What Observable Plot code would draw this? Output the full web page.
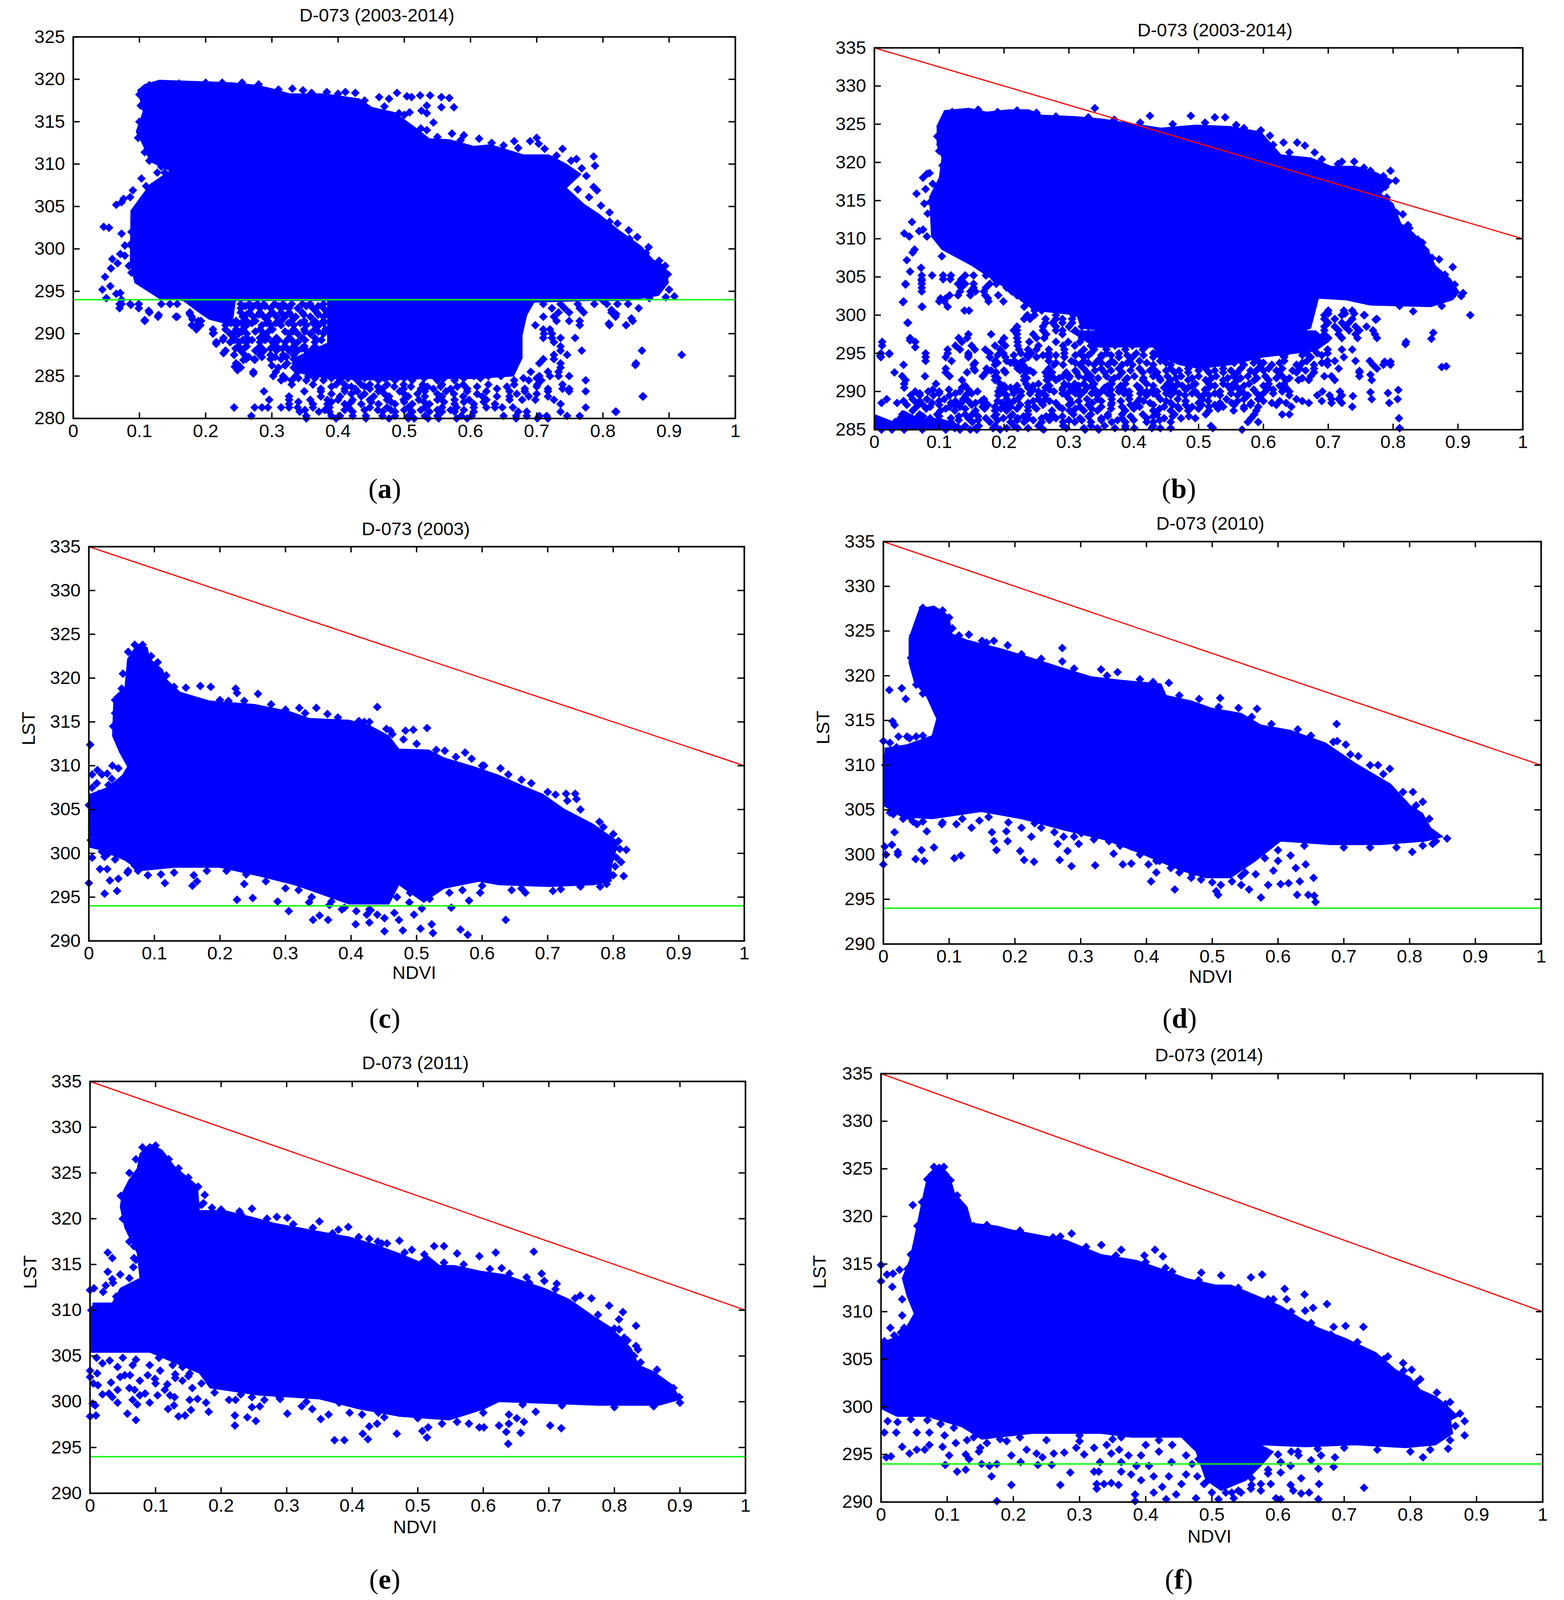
<!DOCTYPE html>
<html><head><meta charset="utf-8">
<script src="https://cdn.jsdelivr.net/npm/d3@7"></script>
<script src="https://cdn.jsdelivr.net/npm/@observablehq/plot@0.6"></script>
<style>
html,body{margin:0;padding:0;background:#fff}
#page{position:relative;width:4004px;overflow:hidden;background:#fff}
#page svg{position:absolute;display:block;background:transparent}
.cap{position:absolute;font-family:"Liberation Serif",serif;font-size:72px;line-height:84px;transform:translate(-50%,-50%);color:#000}
.cap b{font-weight:700}
</style></head><body><div id="page"></div>
<script>
const xTicks=[0,0.1,0.2,0.3,0.4,0.5,0.6,0.7,0.8,0.9,1];
const ticksA=[280,285,290,295,300,305,310,315,320,325];
const ticksB=[285,290,295,300,305,310,315,320,325,330,335];
const ticksC=[290,295,300,305,310,315,320,325,330,335];
const redLine=[[0,335],[1,310]];
const greenLst=294;

const aOutline=[[.097,318.7],[.108,319.4],[.13,319.9],[.206,319.7],[.24,319.6],[.278,319.3],[.30,318.9],[.327,318.3],[.38,318.3],[.432,317.7],[.451,316.7],[.485,316.1],[.515,314.4],[.538,313],[.568,312.9],[.605,312.1],[.63,312.3],[.68,311.1],[.718,311.1],[.745,310],[.767,308.8],[.745,307.2],[.771,305.3],[.794,304.1],[.824,302.2],[.858,300.3],[.876,298.7],[.895,298],[.899,296],[.884,294.5],[.839,293.9],[.779,293.9],[.696,293.7],[.685,292.2],[.678,289.8],[.678,287.1],[.665,285],[.608,284.7],[.537,284.7],[.467,284.5],[.384,284.7],[.339,285.4],[.333,287.1],[.384,288.9],[.384,293.9],[.245,293.9],[.24,291],[.205,291.7],[.192,292.4],[.166,293.9],[.131,294.1],[.093,296],[.086,298.3],[.087,304.5],[.116,307.6],[.146,309.2],[.116,310.3],[.105,312.3],[.095,313.8],[.105,316.1]];
const aRows=[
[293.5,[.070,.086,.099,.133,.146,.157,.253,.266,.278,.288,.304,.317,.33,.346,.358,.378,.71,.736,.762,.787,.806,.822,.838]],
[293.25,[.26,.272,.29,.31,.32,.352,.37]],
[293,[.070,.099,.253,.269,.282,.298,.314,.326,.339,.362,.378,.723,.742,.765,.854]],
[292.5,[.115,.176,.253,.266,.282,.301,.314,.326,.346,.368,.384,.733,.749,.771,.813]],
[292.25,[.262,.28,.297,.328,.348,.37]],
[292,[.128,.157,.179,.256,.272,.288,.307,.32,.336,.358,.378,.71,.726,.819]],
[291.5,[.108,.189,.246,.262,.275,.294,.314,.33,.349,.365,.378,.73,.749,.765,.845]],
[291.25,[.238,.254,.27,.292,.306,.325,.343,.362,.378]],
[291,[.179,.192,.23,.246,.262,.285,.298,.314,.333,.352,.371,.698,.765,.81,.835]],
[290.5,[.186,.211,.23,.246,.256,.282,.301,.333,.349,.365,.381,.71,.72]],
[290.25,[.245,.255,.275,.295,.32,.332,.35,.37]],
[290,[.211,.237,.25,.262,.288,.326,.339,.358,.378,.711,.723]],
[289.5,[.227,.243,.262,.282,.294,.307,.326,.346,.365,.71,.723,.736,.758]],
[289.25,[.226,.243,.256,.27,.29,.31,.33,.35,.375]],
[289,[.216,.237,.25,.262,.282,.301,.32,.339,.365,.726]],
[288.5,[.25,.262,.282,.307,.32,.333,.349,.365,.736]],
[288.25,[.245,.258,.28,.298,.316,.332,.345,.362]],
[288,[.23,.253,.275,.288,.307,.326,.339,.352,.371,.736,.768,.859]],
[287.5,[.243,.259,.282,.298,.317,.333,.352,.726,.746,.919]],
[287.25,[.265,.285,.305,.322]],
[287,[.261,.274,.298,.314,.333,.71,.726]],
[286.5,[.246,.323,.336,.352,.371,.704,.736,.85]],
[286.25,[.25,.3,.32,.34,.355]],
[286,[.246,.253,.31,.333,.346,.365,.39,.416,.442,.461,.736]],
[285.5,[.272,.306,.339,.358,.378,.403,.422,.448,.467,.506,.691,.717,.733]],
[285,[.302,.317,.336,.355,.378,.4,.422,.448,.474,.512,.544,.605,.627,.646,.704,.72,.733,.749]],
[284.75,[.32,.34,.365,.39,.415,.44,.47,.5,.53,.56,.59,.615,.68,.7]],
[284.5,[.314,.33,.352,.378,.403,.429,.461,.486,.512,.55,.576,.666,.688,.707,.774]],
[284,[.33,.362,.397,.41,.435,.448,.474,.499,.528,.557,.589,.627,.666,.701,.739]],
[283.75,[.39,.42,.44,.46,.485,.51,.535,.555,.58,.61,.655,.7]],
[283.5,[.374,.41,.426,.448,.467,.499,.525,.544,.57,.595,.64,.682,.717,.739,.749]],
[283.2,[.288,.349,.374,.41,.429,.461,.493,.531,.563,.595,.624,.659,.682,.717,.749,.774]],
[282.9,[.39,.42,.44,.47,.5,.52,.55,.575,.61,.67,.7]],
[282.6,[.326,.374,.403,.435,.454,.477,.506,.531,.557,.589,.618,.64,.659,.688,.717,.861]],
[282.2,[.296,.326,.358,.384,.4,.422,.448,.474,.499,.522,.55,.576,.598,.624,.659,.678,.698,.726]],
[281.95,[.34,.39,.42,.45,.48,.5,.53,.56,.59,.62]],
[281.7,[.326,.362,.384,.41,.435,.461,.486,.512,.538,.576,.605,.637,.736]],
[281.3,[.243,.274,.285,.294,.314,.326,.339,.362,.387,.416,.448,.474,.506,.531,.557,.579,.605,.624,.637,.648,.664,.774]],
[281,[.35,.38,.41,.44,.46,.48,.5,.525,.55,.57,.59]],
[280.8,[.342,.371,.387,.422,.467,.486,.512,.538,.557,.576,.605,.672,.685,.736,.819]],
[280.3,[.269,.352,.39,.403,.422,.442,.467,.486,.506,.531,.55,.586,.602,.65,.669,.685,.704,.715,.746,.765]],
[280,[.352,.397,.442,.477,.506,.515,.536,.552,.579,.595,.669,.701,.717]]];
const aScatter=[[.046,302.6],[.054,302.5],[.073,301.8],[.078,300.4],[.059,298.8],[.071,299.4],[.078,299.2],[.057,297.7],[.067,298.3],[.048,296.7],[.084,298],[.044,295.2],[.056,295.6],[.065,294.7],[.071,294.8],[.05,294.2],[.073,294],[.073,293.5],[.087,293.4],[.108,291.6],[.114,292.7],[.129,292.2],[.155,292],[.176,292.3],[.186,291],[.18,291.7],[.193,291.5],[.212,290.1],[.216,288.8],[.227,287.7],[.244,286.1],[.248,285.7],[.257,286.9],[.274,286.9],[.272,285.3],[.065,305.2],[.076,305.9],[.086,306.1],[.073,305.5],[.103,308.3],[.09,306.9],[.11,307.4],[.127,309],[.138,309],[.331,318.9],[.347,318.7],[.383,318.5],[.411,318.5],[.426,318.4],[.489,318.4],[.462,317.9],[.477,317.7],[.504,318],[.511,317.9],[.524,318.1],[.539,318.1],[.556,317.9],[.568,317.8],[.575,316.7],[.556,316.7],[.534,316.9],[.534,316],[.526,316.3],[.508,316.1],[.492,316],[.544,314.9],[.534,314],[.572,313.6],[.59,313.4],[.613,313],[.632,312.5],[.666,312.7],[.69,312.7],[.7,313.1],[.703,312.4],[.739,311.8],[.76,310.6],[.786,310.9],[.788,309.8],[.775,308.6],[.786,307.3],[.791,306.9],[.779,306.1],[.797,305.1],[.81,304.3],[.822,303],[.839,302.2],[.852,301.4],[.869,300.2],[.865,299.5],[.894,298],[.908,294.4],[.895,294.3],[.849,286.3],[.86,282.6],[.82,280.8],[.843,291.8],[.835,291],[.809,291.2],[.82,292.3],[.813,292.8],[.1,318.2],[.102,316.9],[.1,315],[.098,313.1],[.108,311.4],[.115,310.4],[.122,310.6],[.133,309.7],[.115,319.3],[.16,319.5],[.2,319.6],[.225,319.6],[.255,319.6],[.28,319.4],[.31,318.8],[.36,318.4],[.4,318.3],[.44,317.5],[.47,316.8],[.5,315.8],[.525,314.2],[.55,313.2],[.585,312.8],[.65,312.2],[.672,311.9],[.712,311.8],[.73,311],[.752,310.4],[.768,309.5],[.762,307],[.81,303.2],[.84,301.2],[.885,298.6],[.898,297],[.9,295.2],[.87,294.2],[.8,293.9],[.088,302],[.086,300.5],[.088,297.2]];

const bOutline=[[.096,324.7],[.108,326.8],[.146,327.1],[.173,326.6],[.208,326.9],[.238,326.9],[.258,326.2],[.312,326],[.35,325.7],[.396,325.1],[.442,324.5],[.496,324.9],[.55,324.7],[.596,324],[.627,321],[.673,320.6],[.704,319.5],[.742,319.5],[.773,318.7],[.8,317.6],[.781,315.9],[.8,314.6],[.812,312],[.831,310.8],[.854,308.6],[.865,306.5],[.888,304.8],[.902,303],[.892,302],[.858,301.1],[.765,301.3],[.727,302],[.685,302.2],[.673,298.3],[.65,297.5],[.565,296.4],[.512,294.8],[.473,296.2],[.396,297.5],[.319,298.3],[.312,300],[.258,300.5],[.235,301.3],[.196,303.9],[.15,306.5],[.104,308.6],[.088,310.3],[.085,315.5],[.1,318],[.104,320.6],[.096,322.4]];
const bCorner=[[0,285],[0,287],[.03,286],[.045,287.5],[.07,286.4],[.1,286.5],[.13,285.7],[.14,285]];
const bDense=[[.3,298],[.34,295.8],[.43,295.8],[.44,294.6],[.47,293.5],[.5,293],[.55,293.5],[.6,294.5],[.68,295.3],[.7,296.5],[.68,298]];
const bRows=[
[305.2,[.073,.089,.106,.118,.14,.153,.172]],
[304.7,[.073,.106,.117,.134,.186]],
[304.1,[.048,.073,.129,.14,.153,.178,.188,.202]],
[303.6,[.073,.134,.153,.172,.204]],
[303.1,[.073,.132,.148,.156,.169,.212]],
[302.6,[.129,.116,.148,.171,.191,.22]],
[302.2,[.11,.102,.175,.231]],
[301.8,[.045,.1,.108,.176,.199,.237]],
[301.1,[.074,.113,.231,.245]],
[300.6,[.139,.146,.247,.258,.70,.724,.737]],
[300.2,[.70,.726,.74]],
[300,[.236,.247,.28,.307,.694,.721,.756]],
[299.5,[.231,.24,.264,.28,.29,.305,.32,.335,.35,.694,.71,.737,.775]],
[299,[.051,.264,.275,.29,.305,.325,.34,.70,.721,.732]],
[298.5,[.22,.26,.28,.3,.32,.33,.694,.71,.726,.742,.759]],
[298,[.215,.22,.26,.28,.29,.31,.694,.716,.732,.748,.769]],
[297.5,[.145,.18,.22,.245,.265,.29,.694,.716,.742,.772]],
[297,[.055,.13,.143,.2,.22,.25,.262,.32,.345,.365,.7,.721,.745,.775]],
[296.5,[.012,.063,.135,.196,.221,.239,.28,.299,.317,.344,.377,.42,.452,.549,.565,.597,.82]],
[296,[.125,.15,.186,.202,.221,.253,.291,.309,.334,.355,.371,.398,.42,.538,.56,.581,.608,.63,.662]],
[295.5,[.113,.132,.155,.171,.194,.223,.237,.25,.269,.293,.323,.339,.358,.387,.414,.441,.525,.549,.57,.592,.619,.651,.678,.699,.721,.737]],
[295,[.01,.023,.079,.113,.145,.178,.199,.226,.242,.269,.293,.317,.334,.358,.377,.404,.43,.457,.484,.516,.543,.57,.597,.635,.667,.683,.699]],
[294.75,[.145,.19,.215,.235,.26,.28,.31,.33,.35,.365,.39,.415,.44,.63,.66,.69]],
[294.5,[.01,.079,.11,.145,.178,.202,.237,.25,.269,.293,.323,.35,.377,.398,.43,.447,.473,.511,.538,.56,.586,.632,.673,.724]],
[294,[.079,.119,.186,.204,.216,.229,.269,.304,.323,.344,.366,.393,.409,.441,.473,.516,.538,.565,.592,.632,.667,.699,.71,.742,.764]],
[293.75,[.155,.19,.21,.225,.28,.31,.33,.35,.37,.39,.42,.45,.48,.5,.53,.555,.585,.6,.625,.66,.69]],
[293.5,[.045,.153,.186,.218,.229,.277,.291,.317,.339,.36,.382,.398,.43,.457,.484,.511,.538,.57,.597,.613,.651,.678,.699,.769,.785,.796]],
[293,[.11,.153,.173,.221,.234,.269,.323,.35,.377,.409,.43,.457,.484,.511,.538,.565,.592,.608,.629,.656,.678,.716,.775]],
[292.75,[.155,.18,.2,.225,.24,.27,.31,.34,.365,.395,.425,.45,.47,.5,.525,.55,.58,.6,.62,.645,.665]],
[292.5,[.031,.11,.143,.172,.188,.202,.234,.245,.264,.274,.296,.312,.328,.355,.382,.414,.436,.463,.484,.516,.538,.56,.586,.624,.651,.678,.748]],
[292,[.043,.078,.116,.167,.186,.231,.266,.274,.291,.301,.315,.334,.358,.377,.401,.43,.452,.473,.5,.527,.554,.576,.603,.629,.673,.694,.705,.748]],
[291.75,[.19,.235,.27,.285,.3,.325,.345,.37,.39,.415,.44,.465,.49,.52,.545,.565,.59,.62,.64,.66]],
[291.5,[.048,.135,.186,.231,.266,.28,.334,.366,.387,.414,.441,.457,.484,.511,.538,.56,.586,.608,.635,.654,.67,.71,.767]],
[291,[.046,.095,.194,.234,.253,.293,.309,.323,.339,.366,.387,.42,.452,.468,.495,.516,.538,.554,.578,.608,.632]],
[290.75,[.14,.2,.22,.245,.27,.3,.315,.335,.36,.38,.405,.43,.46,.475,.49,.525,.545,.57,.6,.625]],
[290.5,[.046,.135,.194,.21,.237,.264,.291,.307,.328,.355,.377,.409,.447,.463,.484,.516,.56,.608,.635]],
[290.25,[.09,.115,.145,.2,.22,.245,.27,.29,.315,.34,.365,.385,.41,.43,.455,.48,.51,.55,.585,.615]],
[290,[.063,.083,.1,.132,.159,.191,.215,.226,.253,.277,.301,.323,.35,.377,.393,.42,.436,.463,.495,.533,.565,.603,.629,.64,.691,.718]],
[289.75,[.07,.1,.125,.15,.2,.215,.24,.26,.29,.31,.335,.36,.385,.41,.43,.45,.47,.49,.51,.525,.55,.57,.59,.615]],
[289.5,[.056,.07,.091,.116,.141,.191,.204,.226,.253,.264,.296,.317,.344,.366,.393,.42,.436,.457,.479,.5,.516,.533,.56,.576,.597,.64,.683,.702,.721]],
[289,[.019,.059,.081,.108,.137,.169,.204,.221,.253,.264,.301,.328,.344,.366,.393,.409,.441,.468,.506,.543,.57,.592,.651,.705,.716,.767,.807]],
[288.75,[.045,.07,.1,.125,.145,.165,.19,.215,.245,.27,.315,.35,.38,.415,.45,.48,.515,.56,.6,.625,.66,.69]],
[288.5,[.011,.035,.065,.089,.118,.134,.156,.172,.196,.207,.237,.258,.28,.304,.336,.366,.404,.425,.457,.5,.533,.551,.581,.613,.635,.67,.705,.721,.794]],
[288.25,[.05,.075,.1,.125,.15,.175,.2,.225,.26,.3,.33,.365,.395,.43,.46,.48,.505,.525,.555,.58,.62]],
[288,[.065,.086,.116,.132,.167,.186,.21,.237,.247,.285,.317,.35,.382,.409,.447,.468,.49,.516,.538,.57,.592,.643,.737]],
[287.75,[.08,.11,.14,.17,.195,.22,.25,.29,.31,.335,.365,.4,.44,.47,.5,.53,.57]],
[287.5,[.059,.102,.124,.156,.186,.204,.237,.274,.301,.323,.344,.387,.43,.457,.484,.516,.554,.589]],
[287,[.043,.07,.097,.14,.151,.188,.213,.237,.274,.307,.334,.36,.382,.414,.436,.463,.511,.586,.64,.629]],
[286.75,[.05,.075,.1,.13,.16,.185,.21,.23,.265,.29,.33,.36,.395,.43,.46,.485]],
[286.5,[.04,.065,.086,.118,.145,.172,.199,.221,.237,.258,.28,.317,.35,.382,.42,.447,.473,.495,.581]],
[286.25,[.13,.16,.19,.22,.245,.27,.3,.32,.35,.375,.4,.44]],
[286,[.008,.032,.048,.07,.091,.118,.151,.178,.21,.231,.258,.291,.309,.334,.366,.387,.42,.43,.457,.576,.592]],
[285.5,[.019,.043,.07,.102,.14,.161,.186,.215,.253,.291,.334,.355,.387,.43,.519]],
[285.2,[.124,.156,.183,.204,.221,.237,.258,.296,.323,.344,.371,.387,.401,.428,.441,.457,.522,.81]],
[285,[.011,.027,.046,.074,.11,.132,.148,.158,.194,.261,.325,.346,.567]]];
const bScatter=[[.046,310.7],[.054,310.3],[.058,312.2],[.062,308.6],[.059,308.2],[.05,307.2],[.055,305.7],[.048,304],[.072,306.2],[.073,304.5],[.065,315.9],[.075,318],[.081,318.5],[.085,318.6],[.079,316.5],[.077,314.6],[.082,313.3],[.069,311],[.075,311.2],[.081,310.3],[.104,307.7],[.044,301.7],[.073,301.1],[.052,299],[.055,296.7],[.063,295.8],[.012,296],[.009,294.7],[.023,294.9],[.34,327.1],[.425,326.1],[.488,326.1],[.525,325.9],[.541,325.9],[.558,324.9],[.596,324.2],[.573,323.6],[.581,321.9],[.615,322.3],[.631,322.6],[.652,322.6],[.664,322.2],[.679,321.3],[.721,320.1],[.74,320.1],[.765,318.9],[.796,318.9],[.804,317.6],[.788,316.8],[.815,313.2],[.823,311.8],[.838,309.9],[.85,308.5],[.871,307.3],[.892,306.3],[.865,305.8],[.908,302.9],[.919,300],[.831,300.5],[.809,286.5],[.808,290.2],[.792,289.8],[.765,289.9],[.738,289.4],[.875,293.2],[.882,293.3],[.862,297.7],[.859,296.9],[.819,296.2],[.773,299.4],[.755,300],[.796,293.9],[.787,293.9],[.765,292.2],[.748,292.7],[.12,326.6],[.16,326.9],[.19,326.6],[.22,326.8],[.25,326.5],[.28,326],[.33,325.9],[.37,325.6],[.41,325.2],[.46,325],[.51,325.2],[.57,324.5],[.61,323.5],[.59,323],[.6,322],[.64,321.3],[.69,320.4],[.715,319.8],[.755,319.3],[.785,318.2],[.79,317.3],[.777,316.5],[.79,315.4],[.805,313.4],[.825,311.4],[.845,309.5],[.86,307.5],[.88,305.3],[.895,304],[.905,302.5],[.875,301.2],[.81,301.2],[.097,323.4],[.1,321.5],[.105,319.6],[.09,317.2],[.086,314.8]];

const cOutline=[[0,306.7],[.028,307.5],[.051,308.9],[.059,309.9],[.047,311.5],[.036,313.4],[.038,317.8],[.055,319],[.059,322.2],[.074,323.9],[.089,323.5],[.093,322.2],[.112,321],[.119,319.8],[.139,318.4],[.184,317.4],[.253,317],[.306,316.2],[.336,315.4],[.397,315.2],[.428,314.6],[.458,313.4],[.473,311.9],[.519,311.8],[.542,310.9],[.587,309.9],[.626,308.9],[.656,307.9],[.694,306.7],[.724,305.1],[.77,303.3],[.808,301.3],[.797,298.4],[.797,296.8],[.77,296.4],[.702,296.2],[.626,296.4],[.595,296.8],[.542,296],[.511,294.4],[.473,296.4],[.458,294.2],[.397,294.2],[.352,295.4],[.314,296.4],[.26,297.4],[.199,298.4],[.131,298.4],[.078,298],[.055,299.2],[.017,300.4],[0,300.7]];
const cScatter=[[.44,316.7],[.516,314.3],[.483,314],[.495,314.1],[.543,311.7],[.574,311.5],[.584,310.8],[.603,310],[.628,309.7],[.66,308.4],[.712,306.7],[.728,306.8],[.742,306.8],[.744,306.2],[.779,303.6],[.808,301.4],[.82,300.4],[.812,299],[.816,297.4],[.636,292.4],[.567,291.3],[.578,290.7],[.525,290.9],[.523,291.9],[.506,291.4],[.479,291.2],[.451,291.1],[.407,291.9],[.428,292.1],[.365,292.4],[.342,292.4],[.352,292.9],[.305,293.4],[.226,294.7],[.25,294.9],[.288,294.5],[.024,295.4],[.043,295.7],[0,296.6],[.032,296.9],[.045,297.1],[.017,298.2],[.028,298.2],[.024,299.6],[.005,299.5],[.059,297.8],[.116,296.6],[.158,296.3],[.165,296.8],[.237,296.5],[.58,294.6],[.553,293.8],[.597,295.5],[.645,295.8],[.666,295.5],[.708,295.7],[.489,294.4],[.466,293.2],[.451,292.6],[.473,292.4],[.496,293],[.508,293.7],[.424,293],[.408,293.4],[.386,293.6],[.336,294.4],[.367,294.1],[.428,293.6],[.148,318.9],[.17,319.1],[.186,319],[.224,318.8],[.226,318.3],[.258,318.2],[.278,317],[.213,317.4],[.237,317.4],[.321,316.6],[.347,316.6],[.364,315.9],[.412,315.1],[.428,315],[.454,314.2],[.463,313.6],[0,305.5],[.013,309.5],[.028,309.1],[.045,309.7],[.036,310],[.002,312.4],[.06,298],[.09,297.5],[.11,297.6],[.13,297.8],[.16,297.5],[.18,298],[.21,298],[.24,297.6],[.27,296.8],[.3,296],[.32,295.8],[.34,295],[.37,294.5],[.39,293.8],[.43,293.5],[.44,293],[.47,295],[.49,295.5],[.52,294.8],[.55,295.5],[.57,295.8],[.6,296.3],[.66,296],[.72,295.9],[.75,296.2],[.78,296.2],[.79,296.5],[.8,297.5],[.803,298.5],[.805,299.5],[.81,300.5],[.2,317.5],[.3,316.4],[.33,316],[.38,315.5],[.42,315],[.46,314],[.48,313],[.5,312.5],[.53,311.8],[.56,311],[.6,310],[.64,309],[.675,308],[.7,307],[.73,306],[.75,305],[.785,303],[.8,302.2],[.04,316],[.037,314.5],[.04,317.5],[.05,318.8],[.052,320.5],[.06,323],[.07,323.8],[.082,323.8],[.095,322.5],[.105,321.8],[.118,320.3],[.13,319],[.005,309],[.012,308],[.02,309],[.035,308.5],[.005,307.5],[.015,306.8],[.03,307.8],[.005,303],[.003,301.5],[.01,301],[.03,300],[.04,299.3],[.02,300.2],[.07,298.6],[.075,298]];

const dOutline=[[0,309.4],[0,305.5],[.028,304.2],[.074,304],[.149,304.8],[.21,304],[.271,302.8],[.339,301.6],[.392,300.1],[.453,298.2],[.49,297.4],[.528,297.4],[.566,299.3],[.604,301.5],[.68,301.1],[.756,301.1],[.824,301.5],[.851,302],[.832,303],[.82,304.6],[.801,305.5],[.771,307.9],[.718,310.2],[.672,312.5],[.619,313.9],[.574,314.5],[.544,315.8],[.498,316.4],[.468,317.2],[.43,317.8],[.422,319.1],[.362,319.5],[.316,319.9],[.271,320.9],[.225,322],[.18,323],[.127,324],[.104,324.7],[.1,326.7],[.077,327.8],[.055,327.5],[.049,326.3],[.039,324.2],[.039,321.4],[.047,319.3],[.066,317.6],[.081,315.2],[.074,313.3],[.036,312.3],[.002,311.9]];
const dScatter=[[.272,323.1],[.272,321.6],[.689,314.6],[.512,317.5],[.568,316.3],[.434,319.2],[.331,320.7],[.356,320.4],[.189,323.4],[.168,323.9],[.157,323.7],[.009,318.4],[.028,318.6],[.034,317.4],[.014,314.9],[.017,314.5],[.023,313.2],[.036,313.2],[0,312.7],[.77,309.6],[.752,310],[.722,311],[.703,312.3],[.684,312.6],[.805,307],[.82,305.9],[.857,301.8],[.804,300.3],[.835,301.2],[.657,294.7],[.655,295.4],[.646,295.5],[.629,295.5],[.633,297],[.654,297.4],[.642,298.9],[.619,299.9],[.627,298.5],[.6,299.3],[.593,298.2],[.616,296.8],[.604,296.7],[.585,296.6],[.574,295.2],[.556,296.1],[.544,296.6],[.509,295.5],[.506,295.9],[.443,296.1],[.407,297],[.544,297.6],[.566,297.8],[.528,298.2],[.513,296.6],[.483,297.2],[.468,297.4],[.415,298],[.403,298.9],[.377,299],[.364,298.9],[.35,300.1],[.322,298.8],[.286,298.7],[.268,299.4],[.28,300.4],[.297,301.2],[.265,301.2],[.229,299.2],[.214,299.4],[.208,300.4],[.172,300.5],[.189,301.5],[.168,301.5],[.118,299.9],[.108,299.6],[.077,300.8],[.062,299.3],[.049,299.5],[.058,300.5],[.022,300.3],[.022,300],[.013,301.1],[.004,300],[.002,300.9],[0,298.9],[.017,302.5],[.051,303.4],[.066,302.6],[.089,303.4],[.111,303.4],[.134,303],[.146,303.8],[.165,302.5],[.187,302.6],[.225,302],[.21,303],[.24,303],[.274,302],[.301,302.4],[.343,301.5],[.377,300.9],[.415,299.3],[.437,298.5],[.015,304.5],[.04,304.2],[.06,303.7],[.09,303.6],[.12,304],[.16,304.2],[.19,303.6],[.23,303.5],[.26,302.5],[.29,302],[.32,301.7],[.36,301],[.39,300],[.42,299.3],[.45,298],[.47,297.8],[.5,296.9],[.53,297],[.55,298],[.58,299.6],[.6,300.5],[.64,301],[.7,300.8],[.74,300.8],[.78,300.8],[.82,301],[.84,301.5],[.115,324.5],[.13,324.6],[.15,323.9],[.21,322.4],[.24,321.9],[.29,320.8],[.34,320],[.39,319.6],[.41,319.3],[.45,317.8],[.48,317.4],[.51,316.5],[.54,316.4],[.56,315.4],[.59,314.6],[.63,314],[.65,313.3],[.69,312.7],[.71,311.2],[.74,310],[.76,309],[.79,307],[.81,305.5],[.83,304],[.06,327.6],[.09,327.3],[.1,326.5],[.105,325.3],[.045,324.5],[.042,322],[.05,319],[.06,318],[.01,312.5],[.02,312],[.04,313],[.05,313.2],[.06,313.3],[.005,311],[.003,310],[.01,306],[.02,305],[.01,304.7],[.03,304],[.045,303.7]];

const eOutline=[[0,308.9],[0,305.4],[.091,305.4],[.167,303.1],[.183,301.5],[.259,300.7],[.35,300.3],[.411,299.2],[.472,298.4],[.548,298],[.601,299.2],[.624,300],[.776,299.6],[.868,299.6],[.898,300.2],[.896,300.9],[.887,301.9],[.86,303.3],[.837,304],[.826,305.8],[.795,308.1],[.769,309.3],[.731,311.2],[.693,312.4],[.632,313.9],[.594,314.3],[.556,314.9],[.533,314.9],[.514,316],[.502,315.3],[.472,316.2],[.434,317.2],[.396,318],[.35,318.6],[.32,319],[.282,319.5],[.251,320.1],[.205,320.9],[.167,320.9],[.164,323.6],[.129,325.7],[.11,327.5],[.091,328.2],[.076,327.1],[.072,325.5],[.059,324.2],[.049,322.8],[.046,321.3],[.053,319],[.072,316.2],[.076,313.5],[.046,312.4],[.034,310.8],[.004,310.8]];
const eScatter=[[.677,316.4],[.619,316.3],[.689,314],[.792,310.5],[.813,309.8],[.833,308.3],[.807,309],[.807,307.9],[.82,306.7],[.833,306.1],[.836,305.7],[.765,311.3],[.748,311.6],[.712,312.9],[.693,313.2],[.666,313.6],[.628,314.6],[.594,315.9],[.56,316.2],[.54,317],[.525,317],[.491,316.6],[.472,317.6],[.453,317.3],[.439,317.5],[.426,317.8],[.394,319.1],[.379,318.8],[.35,319.7],[.301,320.1],[.285,320.2],[.247,321.1],[.228,320.8],[.186,321.2],[.175,322.6],[.173,321.7],[.027,316.3],[.034,315.7],[.027,314.2],[.046,313.9],[.034,313.4],[.024,312.7],[0,312.2],[.006,312.4],[.067,317],[.067,315.7],[.066,314.7],[.002,310],[.638,295.4],[.635,296.7],[.657,296.6],[.719,297.1],[.702,297.4],[.68,298.9],[.662,297.8],[.639,297.6],[.651,298.2],[.639,298.6],[.624,297.4],[.601,297.2],[.594,297.2],[.578,297.6],[.56,297.8],[.537,297.6],[.516,297.2],[.514,296.1],[.507,296.8],[.468,296.5],[.438,297.6],[.426,297.3],[.424,295.9],[.416,296.5],[.388,295.8],[.373,295.8],[.352,298.1],[.364,298.6],[.396,298.8],[.415,298.6],[.449,298.3],[.301,298.7],[.253,297.9],[.24,298.3],[.221,298.5],[.221,297.4],[.181,298.9],[.154,299.1],[.145,298.5],[.135,298.4],[.128,299.6],[.119,299.2],[.07,298],[.057,298.7],[0,298.4],[.009,298.5],[.004,299.8],[.008,299.6],[.042,299.9],[.034,300.5],[.065,300.2],[.072,299.7],[.076,300.7],[.091,299.9],[.019,300.8],[.029,300.9],[.103,300.7],[.122,300.7],[.129,300.5],[.152,300.2],[.164,300.3],[.177,299.9],[.212,300.2],[.222,300.2],[.247,300.5],[.266,300.2],[.289,300.5],[.323,299.5],[.339,299.2],[.259,299.5],[.247,299.4],[.012,301.8],[.046,302.7],[.032,302.1],[.053,302.9],[.061,302.9],[.076,302.3],[.088,302.9],[.099,302.5],[.118,301.9],[.141,302.3],[.156,301.5],[.011,303.1],[.019,304.2],[.042,303.8],[.065,304],[.091,304],[.107,303.4],[.126,304],[.141,303.8],[.152,303.1],[0,303.4],[0,302.7],[.042,301.3],[.068,301.3],[.084,300.9],[.114,301.3],[.02,312],[.04,311.5],[.055,312.3],[.035,313],[.06,313.5],[.07,315.5],[.06,317.5],[.05,320],[.047,322.5],[.06,325],[.07,326.5],[.08,327.8],[.1,328],[.12,326.5],[.135,325.5],[.15,324.5],[.165,323.5],[.17,321.5],[.2,321],[.23,320.5],[.27,320],[.31,319.4],[.34,319],[.37,318.4],[.41,318],[.445,317.3],[.48,316.3],[.51,316.1],[.54,315.2],[.57,315],[.61,314.5],[.64,314],[.67,313],[.71,312.3],[.74,311.3],[.775,309.5],[.8,308],[.815,307],[.83,305],[.84,304.3],[.865,303.5],[.89,301.5],[.899,300.5],[.9,299.9],[.86,299.5],[.8,299.4],[.72,299.6],[.66,299.7],[.6,298.8],[.56,297.8],[.5,298.2],[.44,298.8],[.38,299.9],[.33,300],[.29,300.3],[.23,300.8],[.19,301],[.17,302],[.15,302.8],[.13,303],[.105,304.8],[.07,304.6],[.03,304.5],[.05,304.8],[.01,304.8],[.005,302],[.06,301.5],[.1,302],[.13,302.6]];

const fOutline=[[0,306.8],[0,299.8],[.024,299],[.069,299],[.122,297.9],[.152,296.6],[.228,297.2],[.333,297.2],[.378,296.8],[.454,296.8],[.476,295.3],[.491,292.3],[.514,291.2],[.552,292.3],[.574,293.8],[.593,295.3],[.574,296],[.642,295.8],[.717,296],[.793,295.7],[.838,296],[.864,297.2],[.861,298.6],[.872,299],[.853,300.3],[.838,301.1],[.815,301.8],[.8,303.1],[.778,303.9],[.748,305.7],[.702,307.2],[.661,308.3],[.634,309.3],[.604,310.6],[.567,311.7],[.529,312.8],[.506,312.8],[.461,313.5],[.431,314.3],[.386,315.4],[.333,316],[.28,317.5],[.243,318],[.197,318.6],[.175,319],[.137,319.3],[.13,321],[.111,322.5],[.103,324.4],[.088,325.5],[.071,324.4],[.066,322.9],[.058,320.3],[.05,317.6],[.043,315.4],[.032,313.5],[.039,311.7],[.05,309.8],[.032,307.6]];
const fScatter=[[.048,321.2],[0,314.9],[0,313.2],[.009,313.9],[.018,314],[.028,314.4],[.017,312.6],[.032,311.3],[.032,309.6],[.014,308.3],[.035,308.3],[.882,298.5],[.882,297],[.819,294.7],[.857,295.6],[.73,291.5],[.686,294.7],[.684,293.7],[.661,293.5],[.662,291.9],[.661,290.3],[.635,292.5],[.65,294.4],[.635,290.9],[.647,291],[.619,291.8],[.623,291.2],[.597,290.4],[.604,290.3],[.61,312.4],[.64,311.8],[.674,310.8],[.653,310.4],[.641,310.1],[.576,313.9],[.559,313.6],[.729,308.4],[.684,308.4],[.702,308.5],[.766,305.3],[.789,304.6],[.802,303.9],[.815,302.9],[.853,300.3],[.613,311.3],[.593,311.3],[.414,316.5],[.363,316.5],[.333,317],[.288,318.2],[.271,317.9],[.426,315.8],[.398,315.9],[.43,314.6],[.484,314.1],[.514,313.8],[.008,294.7],[.015,294.8],[.005,297.3],[.023,297.3],[.054,297.3],[.073,297.3],[.032,295.8],[.043,295.1],[.054,295.5],[.066,295.5],[.073,296],[.096,297],[.093,295.8],[.103,294.9],[.097,293.9],[.115,293.2],[.128,293.4],[.128,295],[.133,294.5],[.113,296.2],[.148,295.3],[.152,294],[.164,293.8],[.167,292.7],[.175,294],[.175,290.1],[.197,291.8],[.197,294.9],[.211,294.2],[.22,295.5],[.235,295.1],[.237,293.9],[.258,293.9],[.244,294.7],[.261,295.1],[.277,295.2],[.286,293.1],[.271,291.8],[.307,295],[.295,295.7],[.322,295.7],[.322,293.2],[.329,293.2],[.331,294.2],[.326,291.9],[.337,291.9],[.348,292],[.359,291.8],[.326,291.4],[.341,296],[.348,295.1],[.363,294.2],[.363,293.2],[.378,292.9],[.386,293.8],[.393,292.3],[.384,290.8],[.384,290.1],[.374,294.9],[.393,294.9],[.405,293.8],[.412,292.7],[.412,291],[.425,291.6],[.431,290.3],[.446,290.8],[.435,292.7],[.454,291.9],[.461,292.9],[.439,294.2],[.461,294.9],[.476,290.4],[.488,291.9],[.42,295.3],[.363,296.8],[.574,291.9],[.559,291.4],[.589,291.9],[.604,293.1],[.619,293.8],[.604,294.2],[.631,294.9],[.665,294.9],[.533,290.4],[.544,291],[.51,290.3],[.521,291],[.574,291.2],[.13,296.5],[.15,295.7],[.19,296.4],[.25,296.5],[.3,296.4],[.36,295.5],[.4,296],[.44,296],[.47,294],[.478,292.7],[.5,291],[.54,291.2],[.56,292.5],[.585,293.4],[.6,295],[.62,295.3],[.66,295.6],[.005,306.9],[.02,307.5],[.03,307.8],[.05,307.6],[.01,298.5],[.025,298.4],[.045,298.7],[.07,298.6],[.09,298.2],[.11,297.8],[.14,296.8],[.16,296.2],[.18,296.6],[.21,296.8],[.3,297],[.35,296.6],[.42,296.5],[.48,294.5],[.49,292],[.53,291],[.56,291.8],[.585,293],[.63,295.3],[.7,295.7],[.75,295.5],[.8,295.3],[.83,295.5],[.86,296.5],[.868,298],[.875,299.3],[.86,300.5],[.84,301.5],[.81,302.6],[.79,303.8],[.76,305],[.72,306.8],[.68,307.6],[.65,308.8],[.62,310],[.585,311.3],[.54,312.5],[.48,313.3],[.44,314.2],[.4,315.2],[.355,315.9],[.31,316.8],[.26,317.8],[.21,318.5],[.16,319.1],[.14,319],[.125,320.6],[.115,322.2],[.105,323.8],[.095,325.2],[.08,325.2],[.07,323.9],[.062,321.5],[.055,319],[.045,316],[.04,314.5]];

const FONT='"Liberation Sans",Arial,sans-serif';
const BLUE='#0000ff';
const rowsToPoints=rows=>rows.flatMap(([y,xs])=>xs.map(x=>[x,y]));
const k=Math.min(1,window.innerHeight/5288);
const M={l:185,r:60,t:90,b:130};

const panels=[
 {key:'a',title:'D-073 (2003-2014)',box:[187,121,1882,1382],dom:[280,325],ticks:ticksA,outlines:[aOutline],pts:[...rowsToPoints(aRows),...aScatter],red:false,green:true,tdx:-70,tdy:-70,cap:[985,1615]},
 {key:'b',title:'D-073 (2003-2014)',box:[2238,158,3898,1420],dom:[285,335],ticks:ticksB,outlines:[bOutline,bCorner,bDense],pts:[...rowsToPoints(bRows),...bScatter],red:true,green:false,tdx:42,tdy:-58,cap:[3018,1615]},
 {key:'c',title:'D-073 (2003)',box:[227,1806,1905,3109],dom:[290,335],ticks:ticksC,outlines:[cOutline],pts:cScatter,red:true,green:true,tdx:-2,tdy:-58,cap:[985,3366],xl:[-6,106],yl:[-154,5]},
 {key:'d',title:'D-073 (2010)',box:[2261,1789,3945,3119],dom:[290,335],ticks:ticksC,outlines:[dOutline],pts:dScatter,red:true,green:true,tdx:-5,tdy:-59,cap:[3020,3366],xl:[-4,109],yl:[-154,5]},
 {key:'e',title:'D-073 (2011)',box:[230,3574,1908,4935],dom:[290,335],ticks:ticksC,outlines:[eOutline],pts:eScatter,red:true,green:true,tdx:-6,tdy:-60,cap:[985,5220],xl:[-7,112],yl:[-153,5]},
 {key:'f',title:'D-073 (2014)',box:[2255,3548,3949,4964],dom:[290,335],ticks:ticksC,outlines:[fOutline],pts:fScatter,red:true,green:true,tdx:-7,tdy:-60,cap:[3018,5220],xl:[-6,115],yl:[-157,3]}
];

const page=document.getElementById('page');
page.style.height=Math.floor(5288*k)+'px';
for(const p of panels){
  const x0=p.box[0], x1=p.box[2], y0=p.box[1]*k, y1=p.box[3]*k, W=x1-x0, H=y1-y0;
  const marks=[
    ...p.outlines.map(o=>Plot.line(o,{x:d=>d[0],y:d=>d[1],fill:BLUE,stroke:BLUE,strokeWidth:2})),
    Plot.dot(p.pts,{x:d=>d[0],y:d=>d[1],symbol:'diamond2',r:10,fill:BLUE,stroke:'none'})
  ];
  if(p.green) marks.push(Plot.ruleY([greenLst],{stroke:'#00ff00',strokeWidth:3.5}));
  if(p.red) marks.push(Plot.line(redLine,{x:d=>d[0],y:d=>d[1],stroke:'#ff0000',strokeWidth:3}));
  marks.push(
    Plot.ruleX(xTicks,{stroke:'#000',strokeWidth:3.5,insetTop:H-15}),
    Plot.ruleX(xTicks,{stroke:'#000',strokeWidth:3.5,insetBottom:H-15}),
    Plot.ruleY(p.ticks,{stroke:'#000',strokeWidth:3.5,insetRight:W-17}),
    Plot.ruleY(p.ticks,{stroke:'#000',strokeWidth:3.5,insetLeft:W-17}),
    Plot.frame({stroke:'#000',strokeWidth:4}),
    Plot.axisX(xTicks,{anchor:'bottom',tickSize:0,tickPadding:14,tickFormat:d=>String(d),label:null,fontSize:47,fontFamily:FONT}),
    Plot.axisY(p.ticks,{anchor:'left',tickSize:0,tickPadding:21,tickFormat:d=>String(d),label:null,fontSize:47,fontFamily:FONT}),
    Plot.text([p.title],{frameAnchor:'top',dx:p.tdx,dy:p.tdy*k,lineAnchor:'middle',fontSize:47,fontFamily:FONT,fill:'#000'})
  );
  if(p.xl) marks.push(Plot.text(['NDVI'],{frameAnchor:'bottom',dx:p.xl[0],dy:p.xl[1]*k,lineAnchor:'middle',fontSize:47,fontFamily:FONT,fill:'#000'}));
  if(p.yl) marks.push(Plot.text(['LST'],{frameAnchor:'left',dx:p.yl[0],dy:p.yl[1]*k,rotate:-90,fontSize:47,fontFamily:FONT,fill:'#000'}));
  const svg=Plot.plot({
    width:W+M.l+M.r,height:H+M.t+M.b,
    marginLeft:M.l,marginRight:M.r,marginTop:M.t,marginBottom:M.b,
    x:{domain:[0,1],axis:null},y:{domain:p.dom,axis:null},
    style:{background:'transparent',overflow:'visible',fontFamily:FONT},
    marks
  });
  svg.style.left=(x0-M.l)+'px';
  svg.style.top=(y0-M.t)+'px';
  page.appendChild(svg);
  const cap=document.createElement('div');
  cap.className='cap';
  cap.style.left=p.cap[0]+'px';cap.style.top=(p.cap[1]*k)+'px';
  cap.innerHTML='(<b>'+p.key+'</b>)';
  page.appendChild(cap);
}
</script></body></html>
